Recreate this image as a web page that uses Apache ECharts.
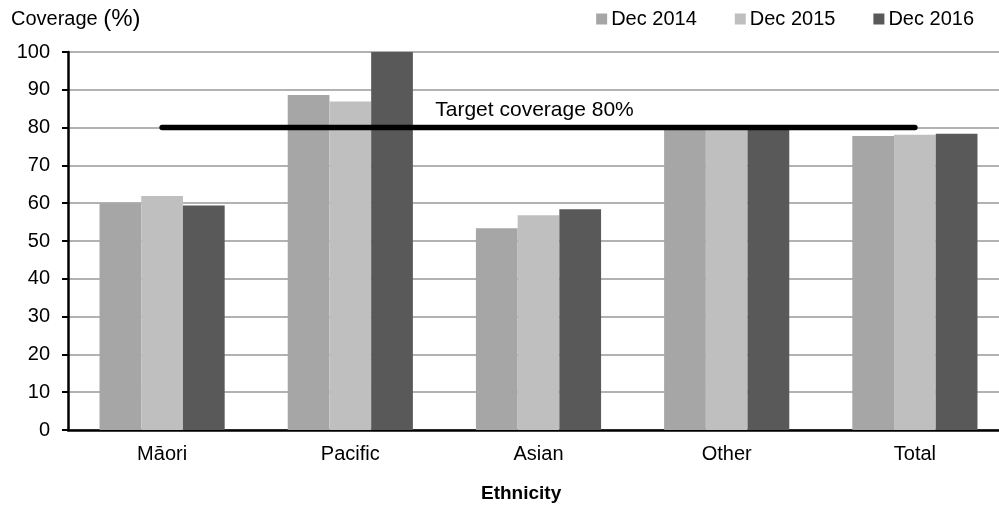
<!DOCTYPE html>
<html>
<head>
<meta charset="utf-8">
<script src="https://cdn.jsdelivr.net/npm/echarts@6/dist/echarts.min.js"></script>
<style>
html,body{margin:0;padding:0;background:#fff;}
#chart{width:999px;height:508px;}
</style>
</head>
<body>
<div id="chart"></div>
<script>
const categories = ['Māori', 'Pacific', 'Asian', 'Other', 'Total'];
const seriesNames = ['Dec 2014', 'Dec 2015', 'Dec 2016'];
const dec2014 = [60.0, 88.6, 53.4, 79.8, 77.8];
const dec2015 = [61.9, 86.9, 56.8, 80.0, 78.1];
const dec2016 = [59.4, 100.0, 58.4, 80.3, 78.4];
const target = [80, 80, 80, 80, 80];
const targetLabel = 'Target coverage 80%';
const yTicks = {min: 0, max: 100, interval: 10};

const FONT = '"Liberation Sans", Arial, sans-serif';
const colors = ['#a6a6a6', '#bfbfbf', '#595959'];
const barData = [dec2014, dec2015, dec2016];

const chart = echarts.init(document.getElementById('chart'), null, {renderer: 'canvas'});

const bars = seriesNames.map((name, i) => ({
  name: name,
  type: 'bar',
  data: barData[i],
  barGap: '0%',
  barCategoryGap: '33.5%',
  itemStyle: {color: colors[i]},
  z: 2
}));

const lineData = target.map((v, i) => i === 2 ? {
  value: v,
  label: {
    show: true,
    formatter: targetLabel,
    position: 'top',
    distance: 7,
    offset: [-4, 0],
    fontFamily: FONT,
    fontSize: 21,
    color: '#000'
  }
} : v);

chart.setOption({
  animation: false,
  backgroundColor: '#fff',
  textStyle: {fontFamily: FONT},
  title: {
    text: '{a|Coverage }{b|(%)}',
    left: 6,
    top: 2,
    textStyle: {
      fontWeight: 'normal',
      rich: {
        a: {fontFamily: FONT, fontSize: 20, fontWeight: 'normal', color: '#000'},
        b: {fontFamily: FONT, fontSize: 24, fontWeight: 'normal', color: '#000'}
      }
    }
  },
  legend: {
    data: seriesNames,
    right: 20,
    top: 4,
    itemWidth: 11,
    itemHeight: 11,
    itemGap: 38,
    icon: 'rect',
    textStyle: {fontFamily: FONT, fontSize: 20, color: '#000', padding: [0, 0, 0, -1]}
  },
  grid: {left: 68, right: -10, top: 52, bottom: 78, outerBoundsMode: 'none', containLabel: false},
  xAxis: {
    type: 'category',
    data: categories,
    axisLine: {show: true, lineStyle: {color: '#000', width: 2.5}},
    axisTick: {show: false},
    axisLabel: {fontFamily: FONT, fontSize: 20, color: '#000', margin: 14}
  },
  yAxis: {
    type: 'value',
    min: yTicks.min,
    max: yTicks.max,
    interval: yTicks.interval,
    axisLine: {show: true, lineStyle: {color: '#000', width: 2.5}},
    axisTick: {show: true, length: 6, lineStyle: {color: '#000', width: 2}},
    axisLabel: {fontFamily: FONT, fontSize: 20, color: '#000', margin: 18},
    splitLine: {show: true, lineStyle: {color: '#999', width: 1.5}}
  },
  graphic: [{
    type: 'text',
    left: 481,
    top: 484,
    style: {text: 'Ethnicity', fontFamily: FONT, fontSize: 19, fontWeight: 'bold', fill: '#000'}
  }],
  series: bars.concat([{
    name: 'Target',
    type: 'line',
    data: lineData,
    symbol: 'circle',
    symbolSize: 0.1,
    showSymbol: true,
    itemStyle: {color: '#000'},
    lineStyle: {color: '#000', width: 5.5, cap: 'round'},
    z: 5
  }])
});
</script>
</body>
</html>
